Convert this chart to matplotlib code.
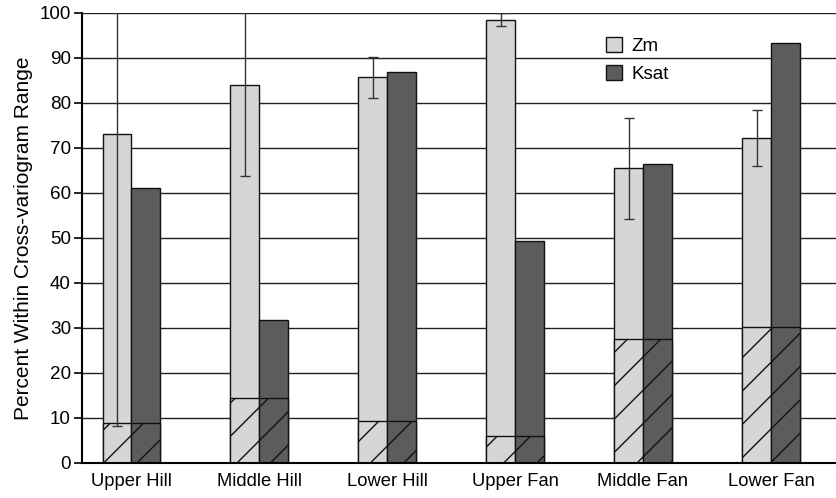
import numpy as np
import matplotlib
matplotlib.use("Agg")
import matplotlib.pyplot as plt

plt.rcParams['font.family'] = ['Liberation Sans', 'DejaVu Sans']
plt.rcParams['hatch.linewidth'] = 1.0

# Data
sites = ["Upper Hill", "Middle Hill", "Lower Hill", "Upper Fan", "Middle Fan", "Lower Fan"]
zm = [73.2, 84.0, 85.7, 98.5, 65.5, 72.3]
zm_err = [65.0, 20.3, 4.5, 1.5, 11.2, 6.2]
ksat = [61.0, 31.8, 86.8, 49.3, 66.5, 93.3]
base = [8.8, 14.5, 9.3, 6.0, 27.5, 30.2]

x = np.arange(len(sites))
w = 0.223

fig = plt.figure(figsize=(8.37, 4.98), dpi=100)
ax = fig.add_axes([0.098, 0.0703, 0.902, 0.9036])

# grid behind bars
ax.set_axisbelow(True)
ax.yaxis.grid(True, color="#222222", linewidth=1.0)

ax.bar(x - w / 2, zm, w, color="#d6d6d6", edgecolor="#111111", linewidth=1.0, label="Zm")
ax.bar(x + w / 2, ksat, w, color="#5c5c5c", edgecolor="#111111", linewidth=1.0, label="Ksat")

# hatched common portion at the bottom
ax.bar(x - w / 2, base, w, color="#d6d6d6", edgecolor="#111111", linewidth=1.0, hatch="/")
ax.bar(x + w / 2, base, w, color="#5c5c5c", edgecolor="#111111", linewidth=1.0, hatch="/")

ax.errorbar(x - w / 2, zm, yerr=zm_err, fmt="none", ecolor="#333333",
            elinewidth=1.0, capsize=3.6, capthick=1.0, clip_on=True)

ax.set_xlim(-0.383, 5.516)
ax.set_ylim(0, 100)
ax.set_yticks(np.arange(0, 101, 10))
ax.set_xticks(x)
ax.set_xticklabels(sites, fontsize=13.2)
ax.tick_params(axis="y", labelsize=13.6, direction="out", length=6, width=1.2, pad=2)
ax.tick_params(axis="x", length=0, pad=7)

ax.spines["right"].set_visible(False)
ax.spines["top"].set_visible(False)
ax.spines["left"].set_linewidth(1.5)
ax.spines["bottom"].set_linewidth(1.5)

ax.set_ylabel("Percent Within Cross-variogram Range", fontsize=15, labelpad=5)

ax.legend(loc="upper left", bbox_to_anchor=(0.672, 0.985), frameon=False,
          fontsize=13.5, handlelength=0.85, handleheight=0.85, handletextpad=0.5,
          labelspacing=0.55)

plt.savefig("out.png", dpi=100)
plt.close()
